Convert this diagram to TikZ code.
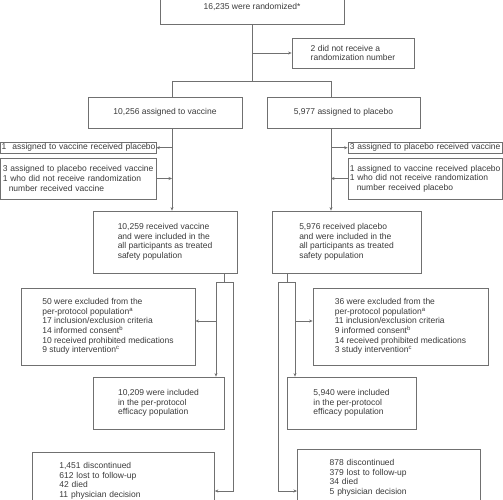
\documentclass[tikz,border=0pt]{standalone}
\usepackage{fontspec}
\setmainfont{Liberation Sans}
\usetikzlibrary{arrows.meta}
\definecolor{ln}{HTML}{707070}
\definecolor{tx}{HTML}{3A3A3A}
\begin{document}
\begin{tikzpicture}[x=1pt,y=-1pt,
  every node/.style={font=\fontsize{8.5}{9.6}\selectfont, text=tx},
  box/.style={draw=ln, line width=0.8pt, inner sep=0pt, align=left},
  conn/.style={draw=ln, line width=0.8pt},
  arr/.style={conn, -{Stealth[length=3.5pt,width=3pt]}}]
\clip (0,0) rectangle (503,500);
% boxes
\node[box, minimum width=184, minimum height=34] (rand) at (252,7) {16,235 were randomized*};
\node[box, minimum width=122, minimum height=30] (norand) at (353,53) {2 did not receive a\\randomization number};
\node[box, minimum width=154, minimum height=31] (vac) at (165,112.5) {10,256 assigned to vaccine};
\node[box, minimum width=153, minimum height=31] (pla) at (343.5,112.5) {5,977 assigned to placebo};
\node[box, minimum width=155.5, minimum height=11.5, text width=153] (vac1) at (78.25,147.75) {\mbox{1\hspace{3pt} assigned to vaccine received placebo}};
\node[box, minimum width=155.5, minimum height=41, text width=151] (vac2) at (78.25,178.5) {3 assigned to placebo received vaccine\\1 who did not receive randomization\\\hspace*{6pt}number received vaccine};
\node[box, minimum width=154.5, minimum height=11.5, text width=151] (pla1) at (425.25,147.75) {\mbox{3 assigned to placebo received vaccine}};
\node[box, minimum width=154.5, minimum height=41, text width=151] (pla2) at (425.25,178.5) {1 assigned to vaccine received placebo\\1 who did not receive randomization\\\hspace*{7pt}number received placebo};
\node[box, minimum width=144, minimum height=62] (vacsafe) at (165,242) {10,259 received vaccine\\and were included in the\\all participants as treated\\safety population};
\node[box, minimum width=149, minimum height=62] (plasafe) at (346.5,242) {5,976 received placebo\\and were included in the\\all participants as treated\\safety population};
\node[box, minimum width=174, minimum height=77] (vacexcl) at (108,326.5) {50 were excluded from the\\per-protocol population\textsuperscript{a}\\17 inclusion/exclusion criteria\\14 informed consent\textsuperscript{b}\\10 received prohibited medications\\9 study intervention\textsuperscript{c}};
\node[box, minimum width=175, minimum height=77] (plaexcl) at (400.5,326.5) {36 were excluded from the\\per-protocol population\textsuperscript{a}\\11 inclusion/exclusion criteria\\9 informed consent\textsuperscript{b}\\14 received prohibited medications\\3 study intervention\textsuperscript{c}};
\node[box, minimum width=131, minimum height=52] (vacpp) at (158.5,403) {10,209 were included\\in the per-protocol\\efficacy population};
\node[box, minimum width=129, minimum height=52] (plapp) at (351.5,403) {5,940 were included\\in the per-protocol\\efficacy population};
\node[box, anchor=north west, text width=128, inner xsep=27pt, inner ysep=10pt, text depth=40pt] (vacdisc) at (32,452) {1,451 discontinued\\612 lost to follow-up\\42 died\\11 physician decision};
\node[box, anchor=north west, text width=118.4, inner xsep=32.3pt, inner ysep=10pt, text depth=40pt] (pladisc) at (297,449) {878 discontinued\\379 lost to follow-up\\34 died\\5 physician decision};
% junction points
\coordinate (jv) at (172,81);
\coordinate (jp) at (331,81);
\coordinate (sv) at (224,282);
\coordinate (svl) at (216,282);
\coordinate (svr) at (233,282);
\coordinate (ev) at (216,321);
\coordinate (dv) at (233,491);
\coordinate (sp) at (287,282);
\coordinate (spl) at (278,282);
\coordinate (spr) at (295,282);
\coordinate (ep) at (295,321);
\coordinate (dp) at (278,491);
% connectors
\draw[conn] (rand.south) -- (rand.south |- jv);
\draw[arr] (rand.south |- norand.west) -- (norand.west);
\draw[conn] (jv) -- (jp);
\draw[conn] (jv) -- (jv |- vac.north);
\draw[conn] (jp) -- (jp |- pla.north);
\draw[arr] (jv |- vac.south) -- (jv |- vacsafe.north);
\draw[arr] (jv |- vac1.east) -- (vac1.east);
\draw[arr] (vac2.east) -- (jv |- vac2.east);
\draw[arr] (jp |- pla.south) -- (jp |- plasafe.north);
\draw[arr] (jp |- pla1.west) -- (pla1.west);
\draw[arr] (pla2.west) -- (jp |- pla2.west);
% vaccine split
\draw[conn] (sv |- vacsafe.south) -- (sv);
\draw[conn] (svl) -- (svr);
\draw[arr] (svl) -- (svl |- vacpp.north);
\draw[arr] (ev) -- (vacexcl.east |- ev);
\draw[arr] (svr) -- (dv) -- (vacdisc.east |- dv);
% placebo split
\draw[conn] (sp |- plasafe.south) -- (sp);
\draw[conn] (spl) -- (spr);
\draw[arr] (spr) -- (spr |- plapp.north);
\draw[arr] (ep) -- (plaexcl.west |- ep);
\draw[arr] (spl) -- (dp) -- (pladisc.west |- dp);
\end{tikzpicture}
\end{document}
